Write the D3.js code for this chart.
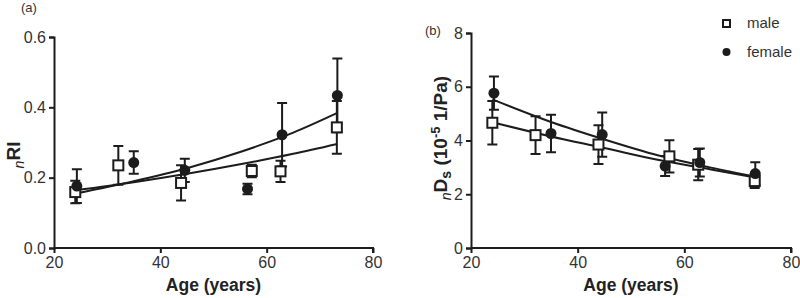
<!DOCTYPE html>
<html>
<head>
<meta charset="utf-8">
<script src="https://cdn.jsdelivr.net/npm/d3@7"></script>
<style>
  body { margin: 0; background: #fff; }
  svg { font-family: "Liberation Sans", Arial, sans-serif; }
</style>
</head>
<body>
<div id="chart"></div>
<script>
// ages of the groups
const maleAge = [24.0, 32.1, 43.9, 57.2, 62.6, 73.2];
const femaleAge = [24.3, 35.0, 44.6, 56.4, 62.9, 73.3];

// panel (a) nRI
const maleRI = [0.159, 0.235, 0.185, 0.219, 0.218, 0.343];
const maleRIErr = [0.032, 0.055, 0.050, 0.018, 0.030, 0.075];
const femaleRI = [0.176, 0.243, 0.221, 0.168, 0.322, 0.434];
const femaleRIErr = [0.048, 0.032, 0.033, 0.015, 0.090, 0.105];

// panel (b) nDs (10^-5 1/Pa)
const maleDs = [4.66, 4.20, 3.85, 3.41, 3.10, 2.49];
const maleDsErr = [0.81, 0.70, 0.72, 0.60, 0.58, 0.26];
const femaleDs = [5.76, 4.26, 4.22, 3.05, 3.18, 2.77];
const femaleDsErr = [0.62, 0.70, 0.82, 0.37, 0.52, 0.42];

// fitted curves
const fitAge = [24, 35, 45, 55, 65, 73.3];
const maleRIFit = [0.164, 0.187, 0.211, 0.238, 0.268, 0.296];
const femaleRIFit = [0.155, 0.190, 0.227, 0.273, 0.328, 0.384];
const maleDsFit = [4.68, 4.15, 3.72, 3.28, 2.92, 2.62];
const femaleDsFit = [5.53, 4.69, 4.04, 3.45, 2.99, 2.66];

const xTicks = [20, 40, 60, 80];
const riTicks = [0.0, 0.2, 0.4, 0.6];
const dsTicks = [0, 2, 4, 6, 8];

const width = 800, height = 298;
const ink = "#1c1c1c";

const svg = d3.select("#chart").append("svg")
    .attr("width", width)
    .attr("height", height);

function drawPanel(opt) {
    const x = d3.scaleLinear().domain([20, 80]).range([opt.left, opt.right]);
    const y = d3.scaleLinear().domain(opt.yDomain).range([248, opt.top]);
    const g = svg.append("g");

    // axes
    const xAxis = g.append("g")
        .attr("transform", "translate(0,248)")
        .call(d3.axisBottom(x).tickValues(xTicks).tickSize(5).tickPadding(4).tickFormat(d3.format("d")));
    const yAxis = g.append("g")
        .attr("transform", `translate(${opt.left},0)`)
        .call(d3.axisLeft(y).tickValues(opt.ticks).tickSize(5).tickPadding(3).tickFormat(opt.fmt));
    [xAxis, yAxis].forEach(a => {
        a.select(".domain").attr("stroke", ink).attr("stroke-width", 2);
        a.selectAll(".tick line").attr("stroke", ink).attr("stroke-width", 2);
        a.selectAll(".tick text").attr("fill", "#333").style("font-size", "16px");
    });
    xAxis.select(".domain").attr("d", `M${opt.left},0H${opt.right}V5`);

    // fit lines
    const line = d3.line()
        .x((d, i) => x(fitAge[i]))
        .y(d => y(d))
        .curve(d3.curveMonotoneX);
    [opt.maleFit, opt.femaleFit].forEach(f => {
        g.append("path")
            .attr("d", line(f))
            .attr("fill", "none")
            .attr("stroke", ink)
            .attr("stroke-width", 2);
    });

    // error bars
    function errBars(ages, vals, errs) {
        ages.forEach((a, i) => {
            const cx = x(a);
            const y1 = y(vals[i] - errs[i]), y2 = y(vals[i] + errs[i]);
            g.append("path")
                .attr("d", `M${cx},${y1}V${y2}M${cx - 5},${y1}H${cx + 5}M${cx - 5},${y2}H${cx + 5}`)
                .attr("fill", "none")
                .attr("stroke", ink)
                .attr("stroke-width", 2);
        });
    }
    errBars(maleAge, opt.male, opt.maleErr);
    errBars(femaleAge, opt.female, opt.femaleErr);

    // markers
    g.selectAll("rect.male")
        .data(opt.male)
        .enter()
        .append("rect")
        .attr("class", "male")
        .attr("x", (d, i) => x(maleAge[i]) - 5)
        .attr("y", d => y(d) - 5)
        .attr("width", 10)
        .attr("height", 10)
        .attr("fill", "#fff")
        .attr("stroke", ink)
        .attr("stroke-width", 2);
    g.selectAll("circle.female")
        .data(opt.female)
        .enter()
        .append("circle")
        .attr("class", "female")
        .attr("cx", (d, i) => x(femaleAge[i]))
        .attr("cy", d => y(d))
        .attr("r", 5.5)
        .attr("fill", ink);

    // x label
    g.append("text")
        .attr("x", (opt.left + opt.right) / 2)
        .attr("y", 291)
        .attr("text-anchor", "middle")
        .style("font-size", "17.5px")
        .style("font-weight", "bold")
        .attr("fill", "#222")
        .text("Age (years)");

    // panel letter
    g.append("text")
        .attr("x", opt.letterX)
        .attr("y", opt.letterY)
        .style("font-size", "13px")
        .attr("fill", "#333")
        .text(opt.letter);

    return g;
}

const ga = drawPanel({
    left: 54, right: 373, top: 37,
    yDomain: [0, 0.6], ticks: riTicks, fmt: d3.format(".1f"),
    male: maleRI, maleErr: maleRIErr, female: femaleRI, femaleErr: femaleRIErr,
    maleFit: maleRIFit, femaleFit: femaleRIFit,
    letter: "(a)", letterX: 21, letterY: 12
});

const gb = drawPanel({
    left: 471, right: 791, top: 33,
    yDomain: [0, 8], ticks: dsTicks, fmt: d3.format("d"),
    male: maleDs, maleErr: maleDsErr, female: femaleDs, femaleErr: femaleDsErr,
    maleFit: maleDsFit, femaleFit: femaleDsFit,
    letter: "(b)", letterX: 425, letterY: 35
});

// y labels
const yla = ga.append("text")
    .attr("transform", "translate(20,155) rotate(-90)")
    .attr("text-anchor", "middle")
    .attr("fill", "#222")
    .style("font-size", "19px")
    .style("font-weight", "bold");
yla.append("tspan").style("font-style", "italic").style("font-weight", "normal")
    .style("font-size", "14px").attr("dy", 4).text("n");
yla.append("tspan").attr("dy", -4).text("RI");

const ylb = gb.append("text")
    .attr("transform", "translate(447,138) rotate(-90)")
    .attr("text-anchor", "middle")
    .attr("fill", "#222")
    .style("font-size", "19px")
    .style("font-weight", "bold");
ylb.append("tspan").style("font-style", "italic").style("font-weight", "normal")
    .style("font-size", "14px").attr("dy", 4).text("n");
ylb.append("tspan").attr("dy", -4).text("D");
ylb.append("tspan").style("font-size", "14px").attr("dy", 4).text("s");
ylb.append("tspan").attr("dy", -4).text(" (10");
ylb.append("tspan").style("font-size", "13px").attr("dy", -7).text("-5");
ylb.append("tspan").attr("dy", 7).text(" 1/Pa)");

// legend
const legend = svg.append("g").attr("class", "legend");
legend.append("rect")
    .attr("x", 723).attr("y", 20).attr("width", 7).attr("height", 7)
    .attr("fill", "#fff").attr("stroke", ink).attr("stroke-width", 2);
legend.append("circle")
    .attr("cx", 726.5).attr("cy", 52).attr("r", 4).attr("fill", ink);
legend.append("text")
    .attr("x", 747).attr("y", 28)
    .style("font-size", "15px").attr("fill", "#333").text("male");
legend.append("text")
    .attr("x", 747).attr("y", 57)
    .style("font-size", "15px").attr("fill", "#333").text("female");
</script>
</body>
</html>
